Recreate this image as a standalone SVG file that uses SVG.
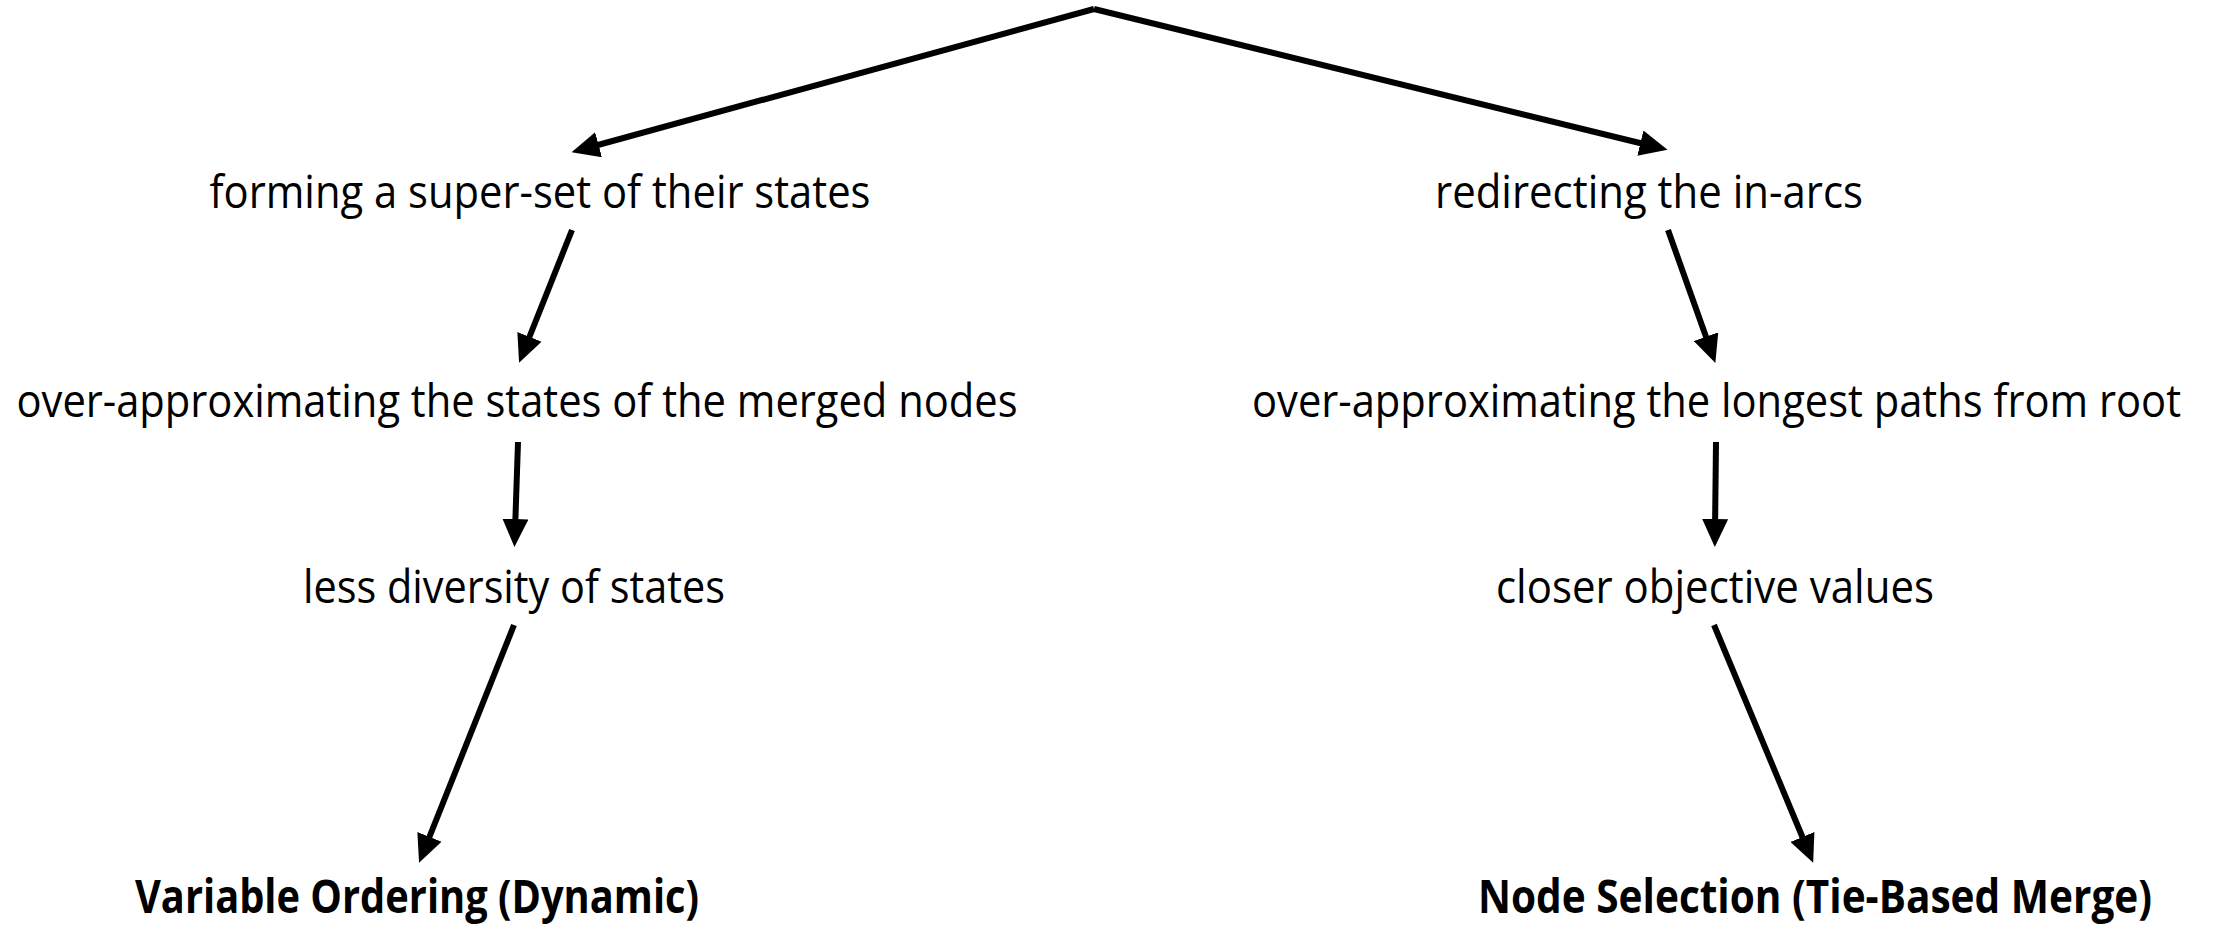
<svg xmlns="http://www.w3.org/2000/svg" width="2213" height="926" viewBox="0 0 2213 926">
<style>
.t{font-family:"Open Sans","Liberation Sans",sans-serif;font-size:46px;fill:#000;text-anchor:middle}
.e{text-anchor:end}
.b{font-weight:bold}
.c{stroke:#000;stroke-width:6;fill:none;marker-end:url(#ah)}
</style>
<defs>
<marker id="ah" markerUnits="userSpaceOnUse" viewBox="0 0 28 26" markerWidth="28" markerHeight="26" refX="12" refY="13" orient="auto">
<path d="M0,0 L28,13 L0,26 z" fill="#000"/>
</marker>
</defs>
<rect width="2213" height="926" fill="#fff"/>
<g id="connectors">
<path class="c" d="M1094,9 L587,148"/>
<path class="c" d="M1094,9 L1652,146"/>
<path class="c" d="M572,230 L525,348"/>
<path class="c" d="M1668,230 L1710,348"/>
<path class="c" d="M518,442 L515,531"/>
<path class="c" d="M1716,442 L1715,531"/>
<path class="c" d="M514,625 L425,848"/>
<path class="c" d="M1714,625 L1807,848"/>
</g>
<g id="n1"><text class="t" x="540" y="208" textLength="661" lengthAdjust="spacingAndGlyphs">forming a super-set of their states</text></g>
<g id="n2"><text class="t" x="1649" y="208" textLength="428" lengthAdjust="spacingAndGlyphs">redirecting the in-arcs</text></g>
<g id="n3"><text class="t" x="517" y="417" textLength="1001" lengthAdjust="spacingAndGlyphs">over-approximating the states of the merged nodes</text></g>
<g id="n4"><text class="t e" x="2181" y="417" textLength="929" lengthAdjust="spacingAndGlyphs">over-approximating the longest paths from root</text></g>
<g id="n5"><text class="t" x="514" y="603" textLength="422" lengthAdjust="spacingAndGlyphs">less diversity of states</text></g>
<g id="n6"><text class="t" x="1715" y="603" textLength="438" lengthAdjust="spacingAndGlyphs">closer objective values</text></g>
<g id="n7"><text class="t b" x="417" y="913" textLength="564" lengthAdjust="spacingAndGlyphs">Variable Ordering (Dynamic)</text></g>
<g id="n8"><text class="t b e" x="2152" y="913" textLength="674" lengthAdjust="spacingAndGlyphs">Node Selection (Tie-Based Merge)</text></g>
</svg>
